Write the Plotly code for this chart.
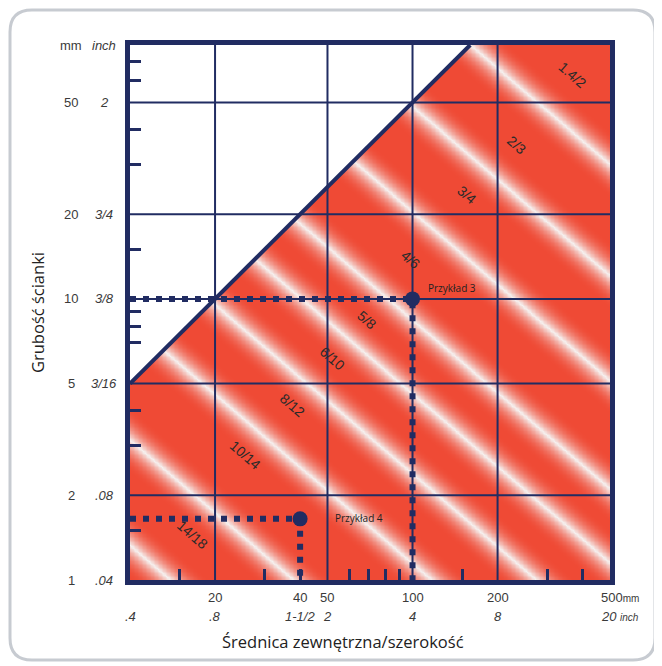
import numpy as np
import plotly.graph_objects as go

NAVY = "#212c62"
RED = "#ef4a35"
STRIPE = "#f5f2f1"
TXT = "#3a3a3a"
LBL = "#2a2a2a"
TICK_FONT = "Liberation Sans, Arial, sans-serif"
TITLE_FONT = "Open Sans, Noto Sans, sans-serif"

# ---------------- data ----------------
d_min, d_max = 10, 500          # outside diameter / width, mm
s_min, s_max = 1, 80            # wall thickness, mm

x_grid = [20, 50, 100, 200]
y_grid = [2, 5, 10, 20, 50]

x_mm_vals = [20, 40, 50, 100, 200]
x_mm_text = ["20", "40", "50", "100", "200"]
x_in_vals = [10, 20, 40, 50, 100, 200]
x_in_text = [".4", ".8", "1-1/2", "2", "4", "8"]

y_vals = [1, 2, 5, 10, 20, 50]
y_mm_text = ["1", "2", "5", "10", "20", "50"]
y_in_text = [".04", ".08", "3/16", "3/8", "3/4", "2"]

x_minor = [15, 30, 40, 60, 70, 80, 90, 150, 300, 400]
y_minor = [1.5, 3, 4, 7, 8, 9, 15, 30, 40, 60, 70]

limit_ratio = 0.5               # solid section: wall = diameter / 2

stripe_slope = 0.86             # log-log slope of the band boundaries
stripe_wall_at_d10 = [1.33, 3.15, 8.3, 17.3, 33.3, 61, 148, 350, 870]

band_labels = ["14/18", "10/14", "8/12", "6/10", "5/8", "4/6", "3/4", "2/3", "1.4/2"]
band_label_d = [16.7, 25.6, 37.5, 51.9, 68.9, 99, 156, 234, 369]
band_label_s = [1.45, 2.79, 4.2, 6.17, 8.4, 13.8, 23.4, 35.3, 62.7]

example_names = ["Przykład 3", "Przykład 4"]
example_d = [100, 40]
example_s = [10, 1.65]
example_shift = [(13, 11), (33, 1)]

# ---------------- layout geometry ----------------
OFF = 8                          # page margin around the figure
W, H = 662, 666
ML, MT = 130 - OFF, 45 - OFF
MR, MB = W - (610 - OFF), H - (580 - OFF)
PW, PH = W - ML - MR, H - MT - MB


def px(xp):
    return (xp - OFF - ML) / PW


def py(yp):
    return (H - MB - (yp - OFF)) / PH


fig = go.Figure()

# gradient bands
nx, ny = 360, 400
xs = np.logspace(np.log10(d_min), np.log10(d_max), nx)
ys = np.logspace(np.log10(s_min), np.log10(s_max), ny)
LX, LY = np.meshgrid(np.log10(xs), np.log10(ys))
U = LY + stripe_slope * (LX - 1)
C = np.log10(np.array(stripe_wall_at_d10))
dist = np.min(np.abs(U[..., None] - C[None, None, :]), axis=-1)
Z = np.round(np.clip(1 - dist / 0.12, 0, 1) ** 2.2, 3)

fig.add_trace(go.Heatmap(
    x=xs, y=ys, z=Z, zmin=0, zmax=1, zsmooth="best",
    colorscale=[[0, RED], [1, STRIPE]], showscale=False, hoverinfo="skip"))

# white region above the solid-section limit
fig.add_trace(go.Scatter(
    x=[d_min * 0.9, s_max * 1.1 / limit_ratio, d_min * 0.9, d_min * 0.9],
    y=[d_min * 0.9 * limit_ratio, s_max * 1.1, s_max * 1.1, d_min * 0.9 * limit_ratio],
    mode="lines", fill="toself", fillcolor="white", line=dict(width=0),
    hoverinfo="skip", showlegend=False))

# grid lines
gx, gy = [], []
for v in x_grid:
    gx += [v, v, None]
    gy += [s_min, s_max, None]
for v in y_grid:
    gx += [d_min, d_max, None]
    gy += [v, v, None]
fig.add_trace(go.Scatter(x=gx, y=gy, mode="lines",
                         line=dict(color=NAVY, width=2),
                         hoverinfo="skip", showlegend=False))

# limit line
fig.add_trace(go.Scatter(
    x=[d_min, s_max / limit_ratio], y=[d_min * limit_ratio, s_max],
    mode="lines", line=dict(color=NAVY, width=4),
    hoverinfo="skip", showlegend=False))

# examples
for name, d, s, (dx, dy) in zip(example_names, example_d, example_s, example_shift):
    fig.add_trace(go.Scatter(
        x=[d_min, d, d], y=[s, s, s_min], mode="lines",
        line=dict(color=NAVY, width=6, dash="6px,7px"),
        hoverinfo="skip", showlegend=False))
    fig.add_trace(go.Scatter(
        x=[d], y=[s], mode="markers",
        marker=dict(color=NAVY, size=15),
        hoverinfo="skip", showlegend=False))
    fig.add_annotation(x=np.log10(d), y=np.log10(s), xref="x", yref="y",
                       text=name, showarrow=False, xanchor="left",
                       yanchor="middle", xshift=dx, yshift=dy,
                       font=dict(family=TITLE_FONT, size=10, color="#222"))

# band labels
for t, d, s in zip(band_labels, band_label_d, band_label_s):
    fig.add_annotation(x=np.log10(d), y=np.log10(s), xref="x", yref="y",
                       text=t, showarrow=False, textangle=41,
                       font=dict(family=TICK_FONT, size=14, color=LBL))

# y tick labels
for v, mm, inch in zip(y_vals, y_mm_text, y_in_text):
    fig.add_annotation(x=px(71), xref="paper", y=np.log10(v), yref="y",
                       text=mm, showarrow=False, xanchor="center",
                       font=dict(family=TICK_FONT, size=13, color=TXT))
    fig.add_annotation(x=px(104), xref="paper", y=np.log10(v), yref="y",
                       text="<i>" + inch + "</i>", showarrow=False, xanchor="center",
                       font=dict(family=TICK_FONT, size=13, color=TXT))
fig.add_annotation(x=px(71), xref="paper", y=np.log10(s_max), yref="y",
                   text="mm", showarrow=False, xanchor="center",
                   font=dict(family=TICK_FONT, size=13, color=TXT))
fig.add_annotation(x=px(104), xref="paper", y=np.log10(s_max), yref="y",
                   text="<i>inch</i>", showarrow=False, xanchor="center",
                   font=dict(family=TICK_FONT, size=13, color=TXT))

# x tick labels
for v, t in zip(x_mm_vals, x_mm_text):
    fig.add_annotation(x=np.log10(v), xref="x", y=py(597), yref="paper",
                       text=t, showarrow=False, yanchor="middle",
                       font=dict(family=TICK_FONT, size=13, color=TXT))
for v, t in zip(x_in_vals, x_in_text):
    fig.add_annotation(x=np.log10(v), xref="x", y=py(616), yref="paper",
                       text="<i>" + t + "</i>", showarrow=False, yanchor="middle",
                       font=dict(family=TICK_FONT, size=13, color=TXT))
fig.add_annotation(x=px(641), xref="paper", y=py(597), yref="paper",
                   xanchor="right",
                   text="500<span style='font-size:10px'>mm</span>", showarrow=False,
                   yanchor="middle", font=dict(family=TICK_FONT, size=13, color=TXT))
fig.add_annotation(x=px(641), xref="paper", y=py(616), yref="paper",
                   xanchor="right",
                   text="<i>20 <span style='font-size:10px'>inch</span></i>", showarrow=False,
                   yanchor="middle", font=dict(family=TICK_FONT, size=13, color=TXT))

# axis titles
fig.add_annotation(x=px(37), xref="paper", y=py(313), yref="paper",
                   text="Grubość ścianki", textangle=-90, showarrow=False,
                   xanchor="center", yanchor="middle",
                   font=dict(family=TITLE_FONT, size=16.5, color="#222"))
fig.add_annotation(x=px(343), xref="paper", y=py(641), yref="paper",
                   text="Średnica zewnętrzna/szerokość", showarrow=False,
                   xanchor="center", yanchor="middle",
                   font=dict(family=TITLE_FONT, size=16.5, color="#222"))

# outer rounded frame
x0, x1, y0, y1, r = 10, 655, 10, 660, 22
path = (f"M {px(x0 + r)} {py(y0)} L {px(x1 - r)} {py(y0)} "
        f"Q {px(x1)} {py(y0)} {px(x1)} {py(y0 + r)} L {px(x1)} {py(y1 - r)} "
        f"Q {px(x1)} {py(y1)} {px(x1 - r)} {py(y1)} L {px(x0 + r)} {py(y1)} "
        f"Q {px(x0)} {py(y1)} {px(x0)} {py(y1 - r)} L {px(x0)} {py(y0 + r)} "
        f"Q {px(x0)} {py(y0)} {px(x0 + r)} {py(y0)} Z")
fig.add_shape(type="path", path=path, xref="paper", yref="paper",
              line=dict(color="#c7cbd1", width=3), layer="below")

axis_common = dict(showgrid=False, zeroline=False, showline=True, mirror=True,
                   linewidth=5, linecolor=NAVY, ticks="", showticklabels=False)

fig.update_xaxes(type="log", range=[np.log10(d_min), np.log10(d_max)],
                 tickmode="array", tickvals=x_grid,
                 minor=dict(tickmode="array", tickvals=x_minor, ticks="inside",
                            ticklen=11, tickwidth=3, tickcolor=NAVY, showgrid=False),
                 **axis_common)
fig.update_yaxes(type="log", range=[np.log10(s_min), np.log10(s_max)],
                 tickmode="array", tickvals=y_grid,
                 minor=dict(tickmode="array", tickvals=y_minor, ticks="inside",
                            ticklen=11, tickwidth=3, tickcolor=NAVY, showgrid=False),
                 **axis_common)

fig.update_layout(width=W, height=H, margin=dict(l=ML, r=MR, t=MT, b=MB),
                  paper_bgcolor="white", plot_bgcolor="white", showlegend=False)

fig.write_html("out.html")
